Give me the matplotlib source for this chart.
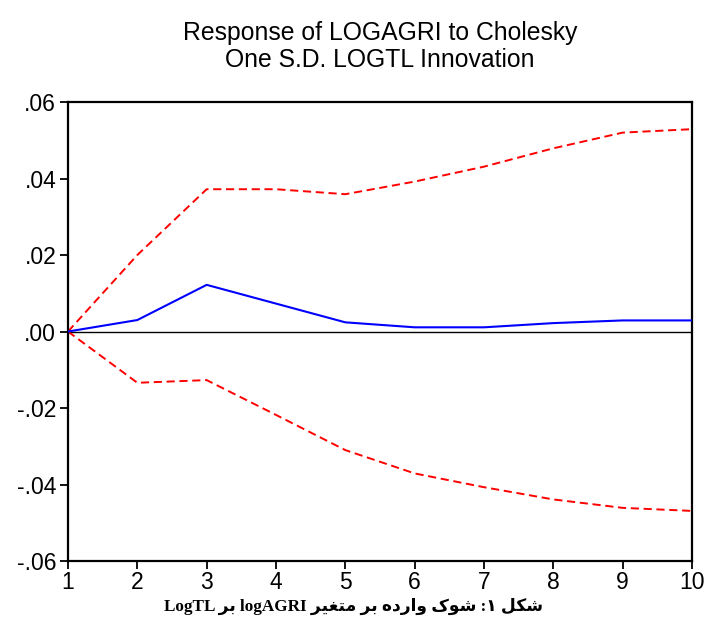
"""Impulse response of LOGAGRI to a LOGTL shock, with +/- 2 S.E. bands."""

import matplotlib
matplotlib.use('Agg')
import matplotlib.pyplot as plt
from matplotlib.ticker import FuncFormatter

periods = [1, 2, 3, 4, 5, 6, 7, 8, 9, 10]
response = [0.0, 0.0030, 0.0122, 0.0073, 0.0024, 0.0011, 0.0011, 0.0022, 0.0029, 0.0029]
upper_band = [0.0, 0.0200, 0.0372, 0.0372, 0.0359, 0.0392, 0.0431, 0.0479, 0.0520, 0.0529]
lower_band = [0.0, -0.0134, -0.0127, -0.0218, -0.0310, -0.0371, -0.0407, -0.0439, -0.0461, -0.0469]
y_ticks = [-0.06, -0.04, -0.02, 0.0, 0.02, 0.04, 0.06]

title_lines = ['Response of LOGAGRI to Cholesky', 'One S.D. LOGTL Innovation']
caption = 'شکل ۱: شوک وارده بر متغیر logAGRI بر LogTL'

# presentation forms: isolated, final, initial, medial
FORMS = {
    'ش': ('\uFEB5', '\uFEB6', '\uFEB7', '\uFEB8'),
    'ک': ('\uFB8E', '\uFB8F', '\uFB90', '\uFB91'),
    'ل': ('\uFEDD', '\uFEDE', '\uFEDF', '\uFEE0'),
    'ه': ('\uFEE9', '\uFEEA', '\uFEEB', '\uFEEC'),
    'ب': ('\uFE8F', '\uFE90', '\uFE91', '\uFE92'),
    'م': ('\uFEE1', '\uFEE2', '\uFEE3', '\uFEE4'),
    'ت': ('\uFE95', '\uFE96', '\uFE97', '\uFE98'),
    'غ': ('\uFECD', '\uFECE', '\uFECF', '\uFED0'),
    'ی': ('\uFBFC', '\uFBFD', '\uFBFE', '\uFBFF'),
    'و': ('\uFEED', '\uFEEE', None, None),
    'ا': ('\uFE8D', '\uFE8E', None, None),
    'ر': ('\uFEAD', '\uFEAE', None, None),
    'د': ('\uFEA9', '\uFEAA', None, None),
}


def shape_word(word):
    "Pick joined forms for one Arabic-script word (logical order)."
    out = []
    for i, ch in enumerate(word):
        if ch not in FORMS:
            out.append(ch)
            continue
        prev = word[i - 1] if i > 0 else None
        nxt = word[i + 1] if i + 1 < len(word) else None
        join_prev = prev in FORMS and FORMS[prev][2] is not None
        join_next = nxt in FORMS and FORMS[ch][2] is not None
        if join_prev and join_next:
            form = FORMS[ch][3]
        elif join_prev:
            form = FORMS[ch][1]
        elif join_next:
            form = FORMS[ch][2]
        else:
            form = FORMS[ch][0]
        out.append(form)
    return ''.join(out)


def visual_rtl(text):
    "Lay out a right-to-left line for a renderer without bidi support."
    words = []
    for w in text.split(' '):
        if w.isascii():
            words.append(w)
        else:
            words.append(shape_word(w)[::-1])
    return ' '.join(reversed(words))


plt.rcParams['font.family'] = ['Liberation Sans', 'DejaVu Sans']

fig = plt.figure(figsize=(7.06, 6.4), dpi=100)
ax = fig.add_axes([0.0963, 0.1234, 0.8839, 0.7172])

ax.axhline(0, color='black', lw=1.0, zorder=1)
ax.plot(periods, upper_band, color='#ff0000', lw=1.4, dashes=(4.2, 2.4), zorder=2)
ax.plot(periods, lower_band, color='#ff0000', lw=1.4, dashes=(4.2, 2.4), zorder=2)
ax.plot(periods, response, color='#0000ff', lw=1.5, zorder=3)

ax.set_xlim(1, 10)
ax.set_ylim(-0.06, 0.06)
ax.set_xticks(periods)
ax.set_yticks(y_ticks)
ax.yaxis.set_major_formatter(FuncFormatter(
    lambda v, pos: ('%.2f' % v).replace('0.', '.').replace('-.00', '.00')))

for spine in ax.spines.values():
    spine.set_linewidth(1.6)
ax.tick_params(axis='both', direction='out', length=5.5, width=1.3,
               labelsize=16.5, pad=3, top=False, right=False)
ax.tick_params(axis='x', pad=2)

# two title lines, centred over the plot area
x_mid = 380 / 706
fig.text(x_mid, 1 - 33 / 640, title_lines[0], ha='center', va='center', fontsize=17.8)
fig.text(x_mid, 1 - 60 / 640, title_lines[1], ha='center', va='center', fontsize=17.8)

fig.text(0.5, 0.053, visual_rtl(caption), ha='center', va='center',
         fontsize=12.3, fontweight='bold',
         family=['Liberation Serif', 'DejaVu Sans'])

fig.savefig('out.png', dpi=100)
